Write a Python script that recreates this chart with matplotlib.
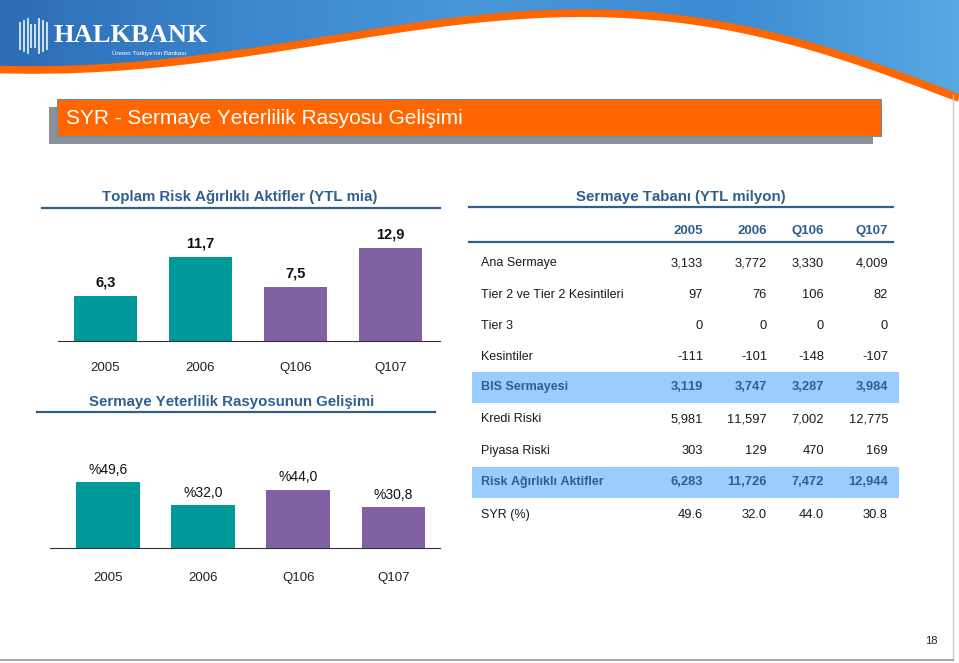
import numpy as np
import matplotlib
matplotlib.use("Agg")
import matplotlib.pyplot as plt
from matplotlib.patches import Rectangle, Polygon

plt.rcParams['font.family'] = ['Liberation Sans', 'DejaVu Sans']
plt.rcParams['text.kerning_factor'] = 10  # no tight "11" pairs

W, H = 959, 663

# data
periods = ["2005", "2006", "Q106", "Q107"]
rwa_bn = [6.3, 11.7, 7.5, 12.9]
rwa_labels = ["6,3", "11,7", "7,5", "12,9"]
car_pct = [49.6, 32.0, 44.0, 30.8]
car_labels = ["%49,6", "%32,0", "%44,0", "%30,8"]

row_names = ["Ana Sermaye", "Tier 2 ve Tier 2 Kesintileri", "Tier 3", "Kesintiler",
             "BIS Sermayesi", "Kredi Riski", "Piyasa Riski",
             "Risk Ağırlıklı Aktifler", "SYR (%)"]
row_values = [
    ["3,133", "3,772", "3,330", "4,009"],
    ["97", "76", "106", "82"],
    ["0", "0", "0", "0"],
    ["-111", "-101", "-148", "-107"],
    ["3,119", "3,747", "3,287", "3,984"],
    ["5,981", "11,597", "7,002", "12,775"],
    ["303", "129", "470", "169"],
    ["6,283", "11,726", "7,472", "12,944"],
    ["49.6", "32.0", "44.0", "30.8"],
]
highlight_rows = ["BIS Sermayesi", "Risk Ağırlıklı Aktifler"]

teal = "#009999"
purple = "#8062A2"
bar_colors = [teal, teal, purple, purple]
title_blue = "#2F5F8F"
band_blue = "#99CCFF"
orange = "#FF6600"


def box(x0, y0, x1, y1):
    return [x0 / W, 1 - y1 / H, (x1 - x0) / W, (y1 - y0) / H]


fig = plt.figure(figsize=(W / 100, H / 100), dpi=100)
bg = fig.add_axes([0, 0, 1, 1])
bg.set_xlim(0, W)
bg.set_ylim(H, 0)
bg.axis("off")

# header banner
cx = np.array([0, 150, 300, 420, 533, 650, 760, 850, 910, 959])
cy = np.array([70, 62, 49, 24, 11, 18, 36, 57, 77, 100])
coef = np.polyfit(cx, cy, 5)
xs = np.linspace(0, W, 300)
ys = np.polyval(coef, xs)
poly = Polygon(np.column_stack([np.r_[xs, W, 0], np.r_[ys, 0, 0]]),
               closed=True, facecolor="none", edgecolor="none")
bg.add_patch(poly)
grad = np.linspace(0, 1, 256).reshape(1, -1)
img = bg.imshow(grad, extent=[0, W, 110, 0], cmap=matplotlib.colors.LinearSegmentedColormap.from_list(
    "b", ["#2C6DB5", "#3B86CC", "#4A97DA", "#3C8AD2", "#58A8E2"]), aspect="auto", zorder=1)
img.set_clip_path(poly)
bg.plot(xs, ys, color=orange, lw=5.5, zorder=2, solid_capstyle="butt")

# logo
for i, hh in enumerate([26, 30, 34, 22, 22, 34, 30, 26]):
    xl = 20 + i * 3.8
    bg.plot([xl, xl], [36 - hh / 2, 36 + hh / 2], color="white", lw=1.3, alpha=0.85, zorder=3)
bg.text(54, 36, "HALKBANK", color="white", fontsize=19, fontweight="bold",
        family="Liberation Serif", va="center", ha="left", zorder=3)
bg.text(112, 53, "Üreten Türkiye'nin Bankası", color="white", fontsize=4.5,
        va="center", ha="left", zorder=3)

# page title box
bg.add_patch(Rectangle((49, 107), 824, 37, facecolor="#8A9099", edgecolor="none", zorder=2))
bg.add_patch(Rectangle((57, 99), 824, 37, facecolor=orange, edgecolor="#6E8EA4", lw=0.8, zorder=3))
bg.text(66, 119, "SYR - Sermaye Yeterlilik Rasyosu Gelişimi", color="white", fontsize=15,
        va="center", ha="left", zorder=4)

# section titles
bg.text(240, 197, "Toplam Risk Ağırlıklı Aktifler (YTL mia)", color=title_blue,
        fontsize=10.8, fontweight="bold", ha="center", va="center")
bg.plot([42, 440], [208, 208], color=title_blue, lw=1.6)
bg.text(232, 402, "Sermaye Yeterlilik Rasyosunun Gelişimi", color=title_blue,
        fontsize=10.8, fontweight="bold", ha="center", va="center")
bg.plot([37, 435], [412, 412], color=title_blue, lw=1.6)
bg.text(681, 197, "Sermaye Tabanı (YTL milyon)", color=title_blue,
        fontsize=10.8, fontweight="bold", ha="center", va="center")
bg.plot([469, 893], [207, 207], color=title_blue, lw=1.6)

# table
col_right = [703, 767, 824, 888]
for x, p in zip(col_right, periods):
    bg.text(x, 231, p, color=title_blue, fontsize=9.5, fontweight="bold", ha="right", va="center")
bg.plot([469, 893], [242, 242], color=title_blue, lw=1.6)
row_y = [263, 295, 326, 357, 387, 419, 451, 482, 515]
for y, name, vals in zip(row_y, row_names, row_values):
    hl = name in highlight_rows
    if hl:
        bg.add_patch(Rectangle((472, y - 15.5), 427, 31, facecolor=band_blue, edgecolor="none", zorder=0))
    color = title_blue if hl else "#1A1A1A"
    weight = "bold" if hl else "normal"
    bg.text(481, y, name, color=color, fontsize=9, fontweight=weight, ha="left", va="center")
    for x, v in zip(col_right, vals):
        bg.text(x, y, v, color=color, fontsize=9.3, fontweight=weight, ha="right", va="center")

# page number and frame
bg.text(931, 641, "18", fontsize=8, color="#222222", ha="center", va="center")
bg.plot([953, 953], [95, 660], color="#C8C8C8", lw=1)
bg.plot([0, 953], [660, 660], color="#A8A8A8", lw=1.5)

# top bar chart
ax1 = fig.add_axes(box(58, 215, 440, 341))
x = np.arange(len(periods))
ax1.bar(x, rwa_bn, width=0.66, color=bar_colors)
for xi, v, lab in zip(x, rwa_bn, rwa_labels):
    ax1.text(xi, v + 0.9, lab, ha="center", va="bottom", fontsize=10.5, fontweight="bold", color="#111111")
ax1.set_xlim(-0.5, 3.52)
ax1.set_ylim(0, 17.5)
ax1.set_yticks([])
ax1.set_xticks(x)
ax1.set_xticklabels(periods, fontsize=9.5, color="#222222")
ax1.tick_params(axis="x", length=0, pad=15)
for s in ["top", "right", "left"]:
    ax1.spines[s].set_visible(False)
ax1.spines["bottom"].set_color("#333333")
ax1.patch.set_alpha(0)

# bottom bar chart
ax2 = fig.add_axes(box(50, 455, 440, 548))
ax2.bar(x, car_pct, width=0.67, color=bar_colors)
for xi, v, lab in zip(x, car_pct, car_labels):
    ax2.text(xi, v + 4, lab, ha="center", va="bottom", fontsize=10, color="#111111")
ax2.set_xlim(-0.61, 3.49)
ax2.set_ylim(0, 70)
ax2.set_yticks([])
ax2.set_xticks(x)
ax2.set_xticklabels(periods, fontsize=9.5, color="#222222")
ax2.tick_params(axis="x", length=0, pad=17)
for s in ["top", "right", "left"]:
    ax2.spines[s].set_visible(False)
ax2.spines["bottom"].set_color("#333333")
ax2.patch.set_alpha(0)

fig.savefig("out.png", dpi=100)
